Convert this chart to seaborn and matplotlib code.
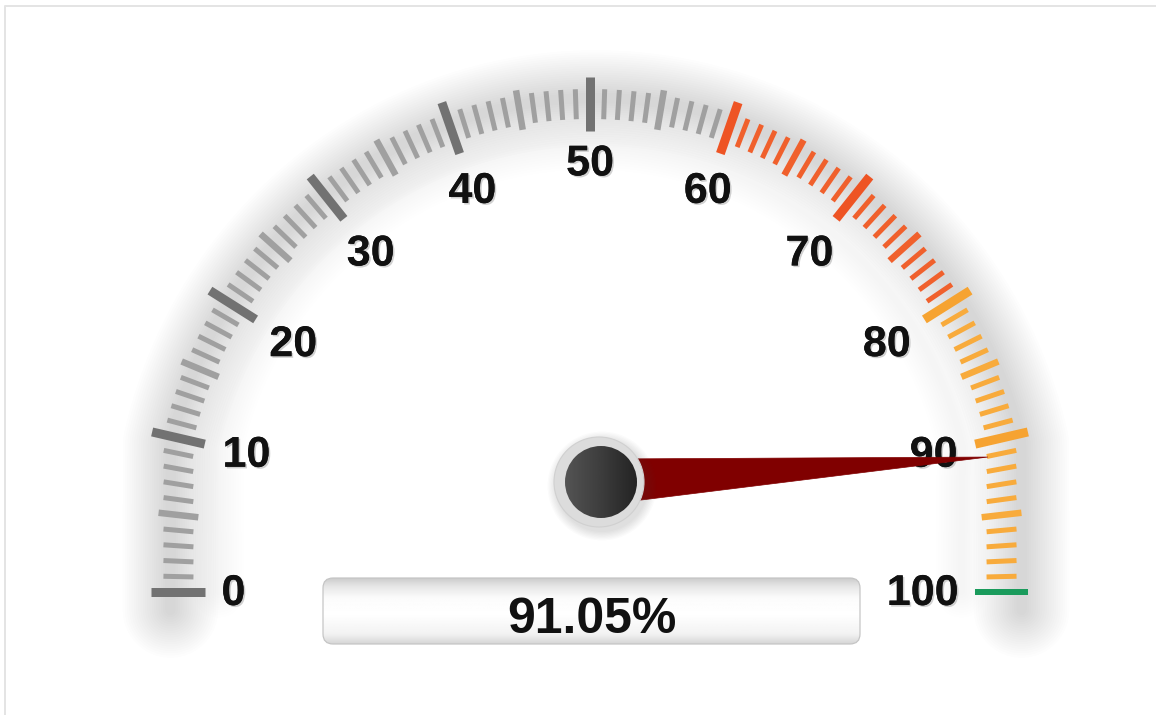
import numpy as np
import matplotlib
matplotlib.use("Agg")
import matplotlib.pyplot as plt
import seaborn as sns
from matplotlib.collections import LineCollection
from matplotlib.patches import Circle, FancyBboxPatch, Polygon
import matplotlib.patheffects as pe

sns.set_style("white")
plt.rcParams["font.family"] = ["Liberation Sans", "DejaVu Sans"]

# ---------------- data ----------------
gauge_min = 0
gauge_max = 100
value = 91.05
value_label = "91.05%"
major_values = [0, 10, 20, 30, 40, 50, 60, 70, 80, 90, 100]
major_labels = ["0", "10", "20", "30", "40", "50", "60", "70", "80", "90", "100"]
band_starts = [0, 60, 80, 100]
band_ends = [60, 80, 100, 100]
band_minor_colors = ["#a0a0a0", "#f0602c", "#f8ab3c", "#1a9b5c"]
band_major_colors = ["#727272", "#ee5424", "#f6a331", "#1a9b5c"]

# ---------------- geometry (pixel space) ----------------
W, H = 1156, 715
PX = 72.0 / 100.0  # points per pixel
CX, CY = 590.0, 535.0
RM = 431.0
KX = 0.98
Y0 = 592.0
A_TOP = 167.0  # angle of 10 / 90 ticks (deg)


def mid_and_dir(v):
    v = float(v)
    if 10 <= v <= 90:
        th = np.radians(A_TOP - (v - 10) * (2 * A_TOP - 180) / 80.0)
        m = np.array([CX + RM * KX * np.cos(th), CY - RM * np.sin(th)])
    else:
        if v < 10:
            t = (10 - v) / 10.0
            th10 = np.radians(A_TOP)
            th = np.radians(A_TOP + (180 - A_TOP) * t)
        else:
            t = (v - 90) / 10.0
            th10 = np.radians(180 - A_TOP)
            th = np.radians((180 - A_TOP) * (1 - t))
        m10 = np.array([CX + RM * KX * np.cos(th10), CY - RM * np.sin(th10)])
        m = np.array([m10[0], m10[1] + t * (Y0 - m10[1])])
    d = np.array([np.cos(th), -np.sin(th)])
    return m, d, th


def band_of(v):
    for i, (s, e) in enumerate(zip(band_starts, band_ends)):
        if s <= v < e or (v == e == gauge_max and s == e):
            return i
    return len(band_starts) - 1


fig = plt.figure(figsize=(W / 100, H / 100), dpi=100)
ax = fig.add_axes([0, 0, 1, 1])
ax.set_xlim(0, W)
ax.set_ylim(H, 0)
ax.axis("off")

# outer frame (left + top)
ax.plot([5, 5, W], [H, 6, 6], color="#e4e4e4", lw=2 * PX, zorder=1)

# ---------------- ring shadow ----------------
vs = np.linspace(gauge_min, gauge_max, 500)
sp = []
for v in vs:
    m, d, th = mid_and_dir(v)
    sp.append(m + d * 14 + np.array([6, 8]))
sp = np.array(sp)
sp = np.vstack([sp[0] + [0, 10], sp, sp[-1] + [0, 10]])
for k in range(20):
    lw = (10 + 4.5 * k) * PX
    ax.plot(sp[:, 0], sp[:, 1], color="#6a6a6a", alpha=0.012, lw=lw,
            solid_capstyle="round", solid_joinstyle="round", zorder=2)
# light inner glow
sp2 = []
for v in vs:
    m, d, th = mid_and_dir(v)
    sp2.append(m - d * 40)
sp2 = np.array(sp2)
for k in range(10):
    lw = (6 + 5 * k) * PX
    ax.plot(sp2[:, 0], sp2[:, 1], color="#8a8a8a", alpha=0.008, lw=lw,
            solid_capstyle="round", zorder=2)

# ---------------- ticks ----------------
segs, cols, lws = [], [], []
for v in range(gauge_min, gauge_max + 1):
    m, d, th = mid_and_dir(v)
    b = band_of(v)
    if v % 10 == 0:
        L, w, c = 54, 9, band_major_colors[b]
    elif v % 5 == 0:
        L, w, c = 40, 6.5, band_minor_colors[b]
    else:
        L, w, c = 30, 5, band_minor_colors[b]
    if v == gauge_max:
        L, w, c = 53, 6, band_minor_colors[-1]
    p1 = m - d * L / 2
    p2 = m + d * L / 2
    segs.append([p1, p2])
    cols.append(c)
    lws.append(w * PX)
ax.add_collection(LineCollection(segs, colors=cols, linewidths=lws,
                                 capstyle="butt", zorder=3))

# ---------------- labels ----------------
shadow = [pe.withSimplePatchShadow(offset=(1.2, -1.2), shadow_rgbFace="#999999", alpha=0.45),
          pe.Normal()]
FS = 31
digit_w = 0.556 * FS / PX
half_h = 0.716 * FS / PX / 2
for v, lab in zip(major_values, major_labels):
    m, d, th = mid_and_dir(v)
    hw = digit_w * len(lab) / 2
    off = 27 + 16 + hw * abs(np.cos(th)) + half_h * abs(np.sin(th))
    p = m - d * off
    ax.text(p[0], p[1] + 2, lab, fontsize=FS, fontweight="bold", color="#111111",
            ha="center", va="center", zorder=5, path_effects=shadow)

# ---------------- value box ----------------
bx0, bx1, by0, by1 = 323, 860, 578, 644
box = FancyBboxPatch((bx0, by0), bx1 - bx0, by1 - by0,
                     boxstyle="round,pad=0,rounding_size=10",
                     facecolor="none", edgecolor="#c4c4c4", lw=1.2 * PX, zorder=6)
ax.add_patch(box)
gy = np.linspace(0, 1, 120)
grad = np.interp(gy, [0, 0.12, 0.3, 0.55, 0.85, 1.0],
                 [0.80, 0.90, 0.985, 1.0, 0.95, 0.84])
img = ax.imshow(np.tile(grad[:, None], (1, 4)), cmap="gray", vmin=0, vmax=1,
                extent=[bx0, bx1, by1, by0], aspect="auto", zorder=5,
                interpolation="bilinear")
img.set_clip_path(box)
ax.text((bx0 + bx1) / 2, 620, value_label, fontsize=36, fontweight="bold",
        color="#111111", ha="center", va="center", zorder=7)

# ---------------- needle ----------------
PXc, PYc = 600.0, 482.0
m, d, th = mid_and_dir(value)
tip = m - d * 14
vec = tip - np.array([PXc, PYc])
n = np.array([-vec[1], vec[0]]) / np.linalg.norm(vec)
base_hw = 23
needle = Polygon([[PXc + n[0] * base_hw, PYc + n[1] * base_hw],
                  [tip[0], tip[1]],
                  [PXc - n[0] * base_hw, PYc - n[1] * base_hw]],
                 closed=True, facecolor="#800000", edgecolor="#800000", lw=0.5, zorder=8)
ax.add_patch(needle)

# ---------------- pivot ----------------
for k in range(8):
    ax.add_patch(Circle((PXc + 2, PYc + 4), 46 + k * 1.2, facecolor="#555555",
                        alpha=0.025, edgecolor="none", zorder=8.5))
ax.add_patch(Circle((PXc - 1, PYc), 45, facecolor="#dcdcdc", edgecolor="#d0d0d0",
                    lw=0.8, zorder=9))
inner = Circle((PXc + 1, PYc), 36, facecolor="none", edgecolor="none", zorder=10)
ax.add_patch(inner)
gx = np.linspace(0, 1, 100)
hg = np.interp(gx, [0, 0.5, 1], [0.33, 0.24, 0.14])
pimg = ax.imshow(np.tile(hg[None, :], (4, 1)), cmap="gray", vmin=0, vmax=1,
                 extent=[PXc - 35, PXc + 37, PYc + 36, PYc - 36], aspect="auto",
                 zorder=10, interpolation="bilinear")
pimg.set_clip_path(inner)

ax.set_xlim(0, W)
ax.set_ylim(H, 0)
fig.savefig("out.png", dpi=100, facecolor="white")
